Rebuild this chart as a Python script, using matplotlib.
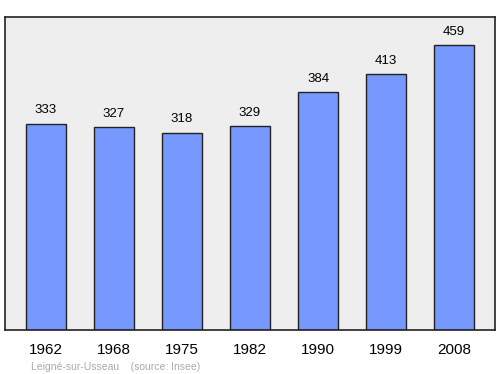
import matplotlib.pyplot as plt

plt.rcParams["font.family"] = ["Liberation Sans", "DejaVu Sans"]

years = ["1962", "1968", "1975", "1982", "1990", "1999", "2008"]
population = [333, 327, 318, 329, 384, 413, 459]

fig = plt.figure(figsize=(5, 3.74), dpi=100)
ax = fig.add_axes([0.01, 0.1176, 0.98, 0.837])
ax.set_facecolor("#eeeeee")

x = range(len(years))
bars = ax.bar(x, population, width=0.587, color="#7799ff",
              edgecolor="#222222", linewidth=1)

# value labels above bars
for xi, v in zip(x, population):
    ax.text(xi, v + 12, str(v), ha="center", va="bottom", fontsize=9.5)

ax.set_xlim(-0.6, 6.6)
ax.set_ylim(0, 505)
ax.set_yticks([])
ax.set_xticks(list(x))
ax.set_xticklabels(years, fontsize=11)
ax.tick_params(axis="x", length=0, pad=9)
for s in ax.spines.values():
    s.set_linewidth(1.2)
    s.set_color("#222222")

fig.text(0.062, 0.012, "Leigné-sur-Usseau    (source: Insee)",
         fontsize=7.5, color="#aaaaaa")

plt.savefig("out.png", dpi=100)
